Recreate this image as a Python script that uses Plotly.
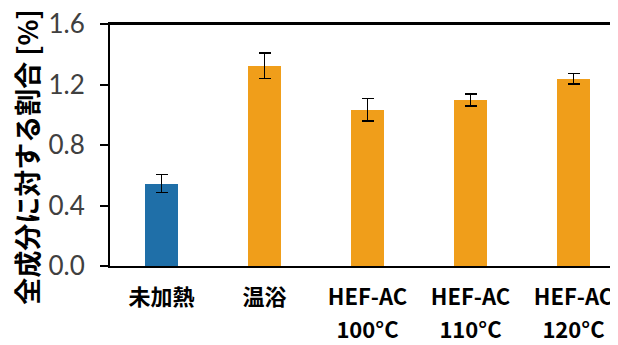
import plotly.graph_objects as go

categories = ["未加熱", "温浴", "HEF-AC 100°C", "HEF-AC 110°C", "HEF-AC 120°C"]
label_line1 = ["未加熱", "温浴", "HEF-AC", "HEF-AC", "HEF-AC"]
label_line2 = ["", "", "100°C", "110°C", "120°C"]
values = [0.545, 1.325, 1.033, 1.098, 1.237]
errors = [0.06, 0.085, 0.075, 0.04, 0.035]
bar_colors = ["#1f6fa8", "#f09e1a", "#f09e1a", "#f09e1a", "#f09e1a"]
y_ticks = [0.0, 0.4, 0.8, 1.2, 1.6]
y_title = "全成分に対する割合 [%]"

xidx = list(range(len(categories)))

fig = go.Figure()
fig.add_trace(go.Bar(
    x=xidx, y=values, width=0.32,
    marker=dict(color=bar_colors, line=dict(width=0)),
    error_y=dict(type="data", array=errors, color="black", thickness=1.6, width=6),
    showlegend=False,
))
# invisible helper traces for the second label row and the top frame axis
fig.add_trace(go.Scatter(x=xidx, y=[0]*5, xaxis="x2", mode="markers",
                         marker=dict(opacity=0), showlegend=False, hoverinfo="skip"))
fig.add_trace(go.Scatter(x=xidx, y=[0]*5, xaxis="x3", mode="markers",
                         marker=dict(opacity=0), showlegend=False, hoverinfo="skip"))

cjk = "Noto Sans CJK JP"
fig.update_layout(
    width=618, height=345,
    margin=dict(l=102, r=8, t=16, b=87, autoexpand=False),
    plot_bgcolor="white", paper_bgcolor="white",
    bargap=0,
    xaxis=dict(
        range=[-0.5, 4.432], tickmode="array", tickvals=xidx, ticktext=label_line1,
        showline=True, linecolor="black", linewidth=2, mirror=True,
        ticks="", showgrid=False, zeroline=False, automargin=False,
        tickfont=dict(family=cjk, size=22, color="black", weight="bold"),
        ticklabelstandoff=11, ticklabeloverflow="allow",
    ),
    xaxis2=dict(
        overlaying="x", matches="x", anchor="y", side="bottom",
        tickmode="array", tickvals=xidx, ticktext=label_line2,
        showline=False, ticks="", showgrid=False, zeroline=False, automargin=False,
        tickfont=dict(family=cjk, size=22, color="black", weight="bold"),
        ticklabelstandoff=49, ticklabeloverflow="allow",
    ),
    xaxis3=dict(
        overlaying="x", matches="x", anchor="y", side="top",
        showline=True, linecolor="black", linewidth=2,
        showticklabels=False, ticks="", showgrid=False, zeroline=False, automargin=False,
    ),
    yaxis=dict(
        range=[0, 1.6], tickmode="array", tickvals=y_ticks,
        ticktext=[f"{v:.1f}" for v in y_ticks],
        showline=True, linecolor="black", linewidth=2, mirror=False,
        ticks="outside", ticklen=8, tickwidth=2, tickcolor="black",
        showgrid=False, zeroline=False, automargin=False,
        tickfont=dict(family="Lato", size=26, color="#404040"),
        ticklabelstandoff=10, ticklabeloverflow="allow",
    ),
    shapes=[dict(type="line", xref="paper", yref="paper", x0=-0.002, x1=1, y0=1, y1=1,
                 layer="above", line=dict(color="black", width=2))],
    annotations=[dict(
        text=y_title, textangle=-90, xref="paper", yref="paper",
        x=-0.166, y=0.45, xanchor="center", yanchor="middle", showarrow=False,
        font=dict(family=cjk, size=27, color="black", weight="bold"),
    )],
)

fig.write_html("out.html")
